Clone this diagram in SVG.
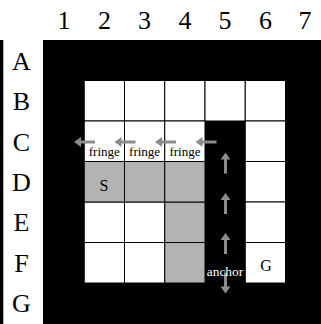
<svg xmlns="http://www.w3.org/2000/svg" width="321" height="324" viewBox="0 0 321 324">
<style>
.lbl{font-family:"Liberation Serif","Times New Roman",serif;font-size:26px;fill:#000;text-anchor:middle}
.w{fill:#fff;stroke:#000;stroke-width:1}
.g{fill:#b3b3b3;stroke:#000;stroke-width:1}
.sm{font-family:"Liberation Serif","Times New Roman",serif;font-size:13px;fill:#000;text-anchor:middle}
.mk{font-family:"Liberation Serif","Times New Roman",serif;font-size:16px;fill:#000;text-anchor:middle}
.arr{fill:#8c8c8c}
</style>
<defs>
<polygon id="arrow" points="0,0 7,-5 7,-1.5 21,-1.5 21,1.5 7,1.5 7,5"/>
</defs>
<rect width="321" height="324" fill="#fff"/>
<g id="labels">
<text class="lbl" x="64" y="29">1</text>
<text class="lbl" x="104.5" y="29">2</text>
<text class="lbl" x="144.5" y="29">3</text>
<text class="lbl" x="185" y="29">4</text>
<text class="lbl" x="225" y="29">5</text>
<text class="lbl" x="265.5" y="29">6</text>
<text class="lbl" x="305" y="29">7</text>
<text class="lbl" x="21.5" y="69.5">A</text>
<text class="lbl" x="21.5" y="110">B</text>
<text class="lbl" x="21.5" y="150.5">C</text>
<text class="lbl" x="21.5" y="191">D</text>
<text class="lbl" x="21.5" y="231">E</text>
<text class="lbl" x="21.5" y="272">F</text>
<text class="lbl" x="21.5" y="312">G</text>
</g>
<rect x="0" y="40" width="3.3" height="284" fill="#000"/>
<rect id="walls" x="43" y="40" width="278" height="284" fill="#000"/>
<g id="cells">
<rect class="w" x="84.25" y="80.5" width="40.25" height="40.5"/>
<rect class="w" x="124.5" y="80.5" width="40.25" height="40.5"/>
<rect class="w" x="164.75" y="80.5" width="40.25" height="40.5"/>
<rect class="w" x="205" y="80.5" width="40.25" height="40.5"/>
<rect class="w" x="245.25" y="80.5" width="40.25" height="40.5"/>
<rect class="w" x="84.25" y="121" width="40.25" height="40.5"/>
<rect class="w" x="124.5" y="121" width="40.25" height="40.5"/>
<rect class="w" x="164.75" y="121" width="40.25" height="40.5"/>
<rect class="w" x="245.25" y="121" width="40.25" height="40.5"/>
<rect class="w" x="245.25" y="161.5" width="40.25" height="40.5"/>
<rect class="w" x="84.25" y="202" width="40.25" height="40.5"/>
<rect class="w" x="124.5" y="202" width="40.25" height="40.5"/>
<rect class="w" x="245.25" y="202" width="40.25" height="40.5"/>
<rect class="w" x="84.25" y="242.5" width="40.25" height="40.5"/>
<rect class="w" x="124.5" y="242.5" width="40.25" height="40.5"/>
<rect class="g" x="164.75" y="202" width="40.25" height="40.5"/>
<rect class="g" x="164.75" y="242.5" width="40.25" height="40.5"/>
</g>
<g id="start"><rect class="g" x="84.25" y="161.5" width="40.25" height="40.5"/><text class="mk" x="104" y="190.5">S</text></g>
<g id="d3"><rect class="g" x="124.5" y="161.5" width="40.25" height="40.5"/></g>
<g id="d4"><rect class="g" x="164.75" y="161.5" width="40.25" height="40.5"/></g>
<g id="goal"><rect class="w" x="245.25" y="242.5" width="40.25" height="40.5"/><text class="mk" x="266" y="270.7">G</text></g>
<g id="fringes">
<text class="sm" x="104.3" y="156">fringe</text>
<text class="sm" x="144.6" y="156">fringe</text>
<text class="sm" x="184.9" y="156">fringe</text>
</g>
<g id="connectors" class="arr">
<use href="#arrow" transform="translate(74,142)"/>
<use href="#arrow" transform="translate(114.5,142)"/>
<use href="#arrow" transform="translate(155,142)"/>
<use href="#arrow" transform="translate(195.5,142)"/>
<use href="#arrow" transform="translate(225.5,152.5) rotate(90)"/>
<use href="#arrow" transform="translate(225.5,193) rotate(90)"/>
<use href="#arrow" transform="translate(225.5,233) rotate(90)"/>
<use href="#arrow" transform="translate(225.5,293.5) rotate(-90)"/>
</g>
<g id="anchor"><text x="225" y="275.7" font-family="Liberation Serif, Times New Roman, serif" font-size="13.5" fill="#fff" text-anchor="middle" textLength="36.5" lengthAdjust="spacingAndGlyphs">anchor</text></g>
</svg>
